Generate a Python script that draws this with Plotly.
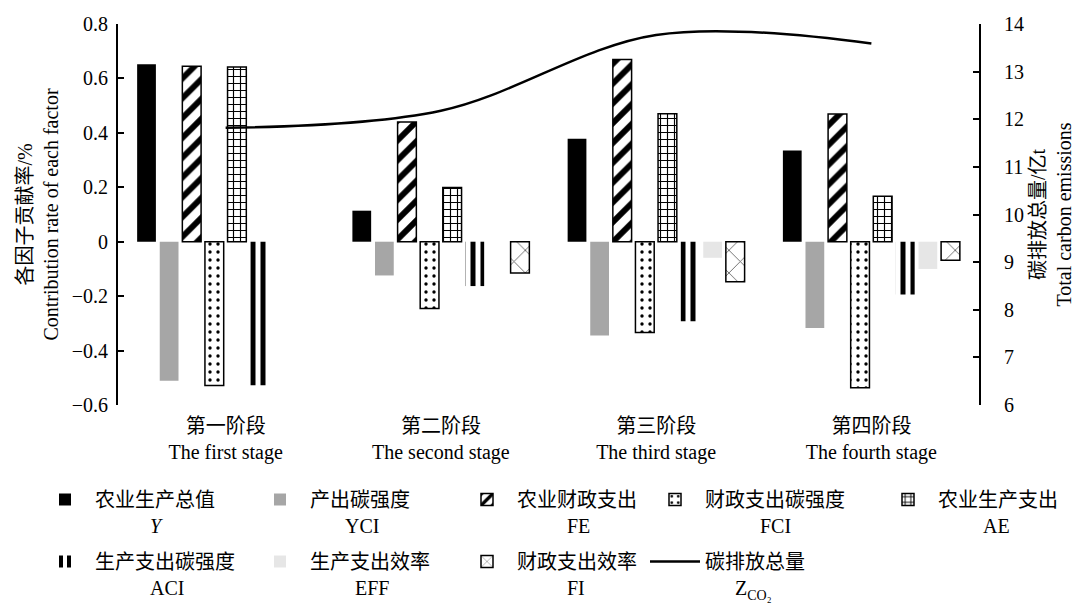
import plotly.graph_objects as go

# ---------------- data ----------------
stages = ["第一阶段<br>The first stage", "第二阶段<br>The second stage",
          "第三阶段<br>The third stage", "第四阶段<br>The fourth stage"]

Y   = [0.652, 0.114, 0.378, 0.335]
YCI = [-0.511, -0.124, -0.345, -0.317]
FE  = [0.645, 0.440, 0.670, 0.469]
FCI = [-0.528, -0.245, -0.334, -0.537]
AE  = [0.642, 0.199, 0.470, 0.167]
ACI = [-0.527, -0.163, -0.292, -0.194]
EFF = [None, None, -0.059, -0.100]
FI  = [None, -0.115, -0.147, -0.068]
Z_CO2 = [11.82, 12.18, 13.77, 13.59]

cn_names = ["农业生产总值", "产出碳强度", "农业财政支出", "财政支出碳强度", "农业生产支出",
            "生产支出碳强度", "生产支出效率", "财政支出效率", "碳排放总量"]
en_names = ["<i>Y</i>", "YCI", "FE", "FCI", "AE", "ACI", "EFF", "FI", "Z<sub>CO₂</sub>"]
en_widths = [12, 34, 23, 31, 27, 34, 34, 18, 36]  # approx rendered px width of abbreviations

FONT = "Liberation Serif, Noto Sans CJK SC, serif"
FS = 20

# figure geometry
W, H = 1075, 606
ML, MR, MT, MB = 118, 96, 24, 201
PW, PH = W - ML - MR, H - MT - MB

# legend layout: 5 columns x 2 rows (one legend per column)
legend_cols = [35, 250, 457, 645, 878]   # left px of each legend column
legend_top_px = 480
trace_legend = ["legend", "legend2", "legend3", "legend4", "legend5",
                "legend", "legend2", "legend3", "legend4"]


def legend_label(cn, en, en_w):
    cn_w = len(cn) * FS
    pad = max(0, round((cn_w - en_w) / 2 / (0.25 * FS)))
    return cn + "<br>" + "\u00a0" * pad + en


labels = [legend_label(c, e, w) for c, e, w in zip(cn_names, en_names, en_widths)]


def pat(shape, size, solidity, fg="black"):
    return dict(shape=shape, fgcolor=fg, bgcolor="white", size=size,
                solidity=solidity, fillmode="replace", fgopacity=1)


fig = go.Figure()

bar_specs = [
    (Y,   dict(color="black", line=dict(width=0))),
    (YCI, dict(color="#a6a6a6", line=dict(width=0))),
    (FE,  dict(color="white", line=dict(color="black", width=1.5), pattern=pat("/", 14, 0.42))),
    (FCI, dict(color="white", line=dict(color="black", width=1.5), pattern=pat(".", 8, 0.14))),
    (AE,  dict(color="white", line=dict(color="black", width=1.5), pattern=pat("+", 7, 0.3))),
    (ACI, dict(color="white", line=dict(width=0), pattern=pat("|", 10, 0.5))),
    (EFF, dict(color="#e6e6e6", line=dict(width=0))),
    (FI,  dict(color="white", line=dict(color="black", width=1.5), pattern=pat("x", 16, 0.1, "#555555"))),
]

for i, ((vals, marker), name) in enumerate(zip(bar_specs, labels[:8])):
    fig.add_trace(go.Bar(x=stages, y=vals, name=name, marker=marker, xaxis="x", yaxis="y",
                         legend=trace_legend[i], legendgroup=f"g{i}"))

fig.add_trace(go.Scatter(x=stages, y=Z_CO2, name=labels[8], mode="lines",
                         line=dict(color="black", width=2.5, shape="spline", smoothing=1.0),
                         xaxis="x", yaxis="y2", legend=trace_legend[8], legendgroup="g8"))

zero_pos = (0 - (-0.6)) / (0.8 - (-0.6))
boundaries = [i + 0.5 for i in range(len(stages) - 1)]

legend_common = dict(orientation="v", xanchor="left", yanchor="top",
                     itemwidth=50, valign="top", font=dict(size=FS),
                     tracegroupgap=7, traceorder="grouped", bgcolor="rgba(0,0,0,0)",
                     borderwidth=0)
legends = {}
for k, lid in enumerate(["legend", "legend2", "legend3", "legend4", "legend5"]):
    legends[lid] = dict(legend_common,
                        x=(legend_cols[k] - ML) / PW,
                        y=(MT + PH - legend_top_px) / PH)

fig.update_layout(
    width=W, height=H,
    margin=dict(l=ML, r=MR, t=MT, b=MB, autoexpand=False),
    paper_bgcolor="white", plot_bgcolor="white",
    font=dict(family=FONT, size=FS, color="black"),
    barmode="group", bargap=0.16, bargroupgap=0.17,
    xaxis=dict(type="category", showline=False, ticks="", showgrid=False, zeroline=False,
               tickfont=dict(size=FS), ticklabelstandoff=7),
    xaxis2=dict(overlaying="x", anchor="free", position=zero_pos, range=[-0.5, len(stages) - 0.5],
                showline=True, linecolor="black", linewidth=2, showgrid=False, zeroline=False,
                ticks="inside", ticklen=7, tickwidth=2, tickcolor="black",
                tickmode="array", tickvals=boundaries, showticklabels=False),
    yaxis=dict(range=[-0.6, 0.8], dtick=0.2, showgrid=False, zeroline=False,
               showline=True, linecolor="black", linewidth=2,
               ticks="inside", ticklen=6, tickwidth=2, tickcolor="black",
               tickfont=dict(size=FS), ticklabelstandoff=4,
               title=dict(text="各因子贡献率/%<br>Contribution rate of each factor",
                          font=dict(size=FS), standoff=8)),
    yaxis2=dict(range=[6, 14], dtick=1, overlaying="y", side="right", anchor="x",
                showgrid=False, zeroline=False,
                showline=True, linecolor="black", linewidth=2,
                ticks="inside", ticklen=6, tickwidth=2, tickcolor="black",
                tickfont=dict(size=FS), ticklabelstandoff=19,
                title=dict(text="碳排放总量/亿t<br>Total carbon emissions",
                           font=dict(size=FS), standoff=8)),
    showlegend=True,
    **legends,
)

fig.write_html("out.html")
